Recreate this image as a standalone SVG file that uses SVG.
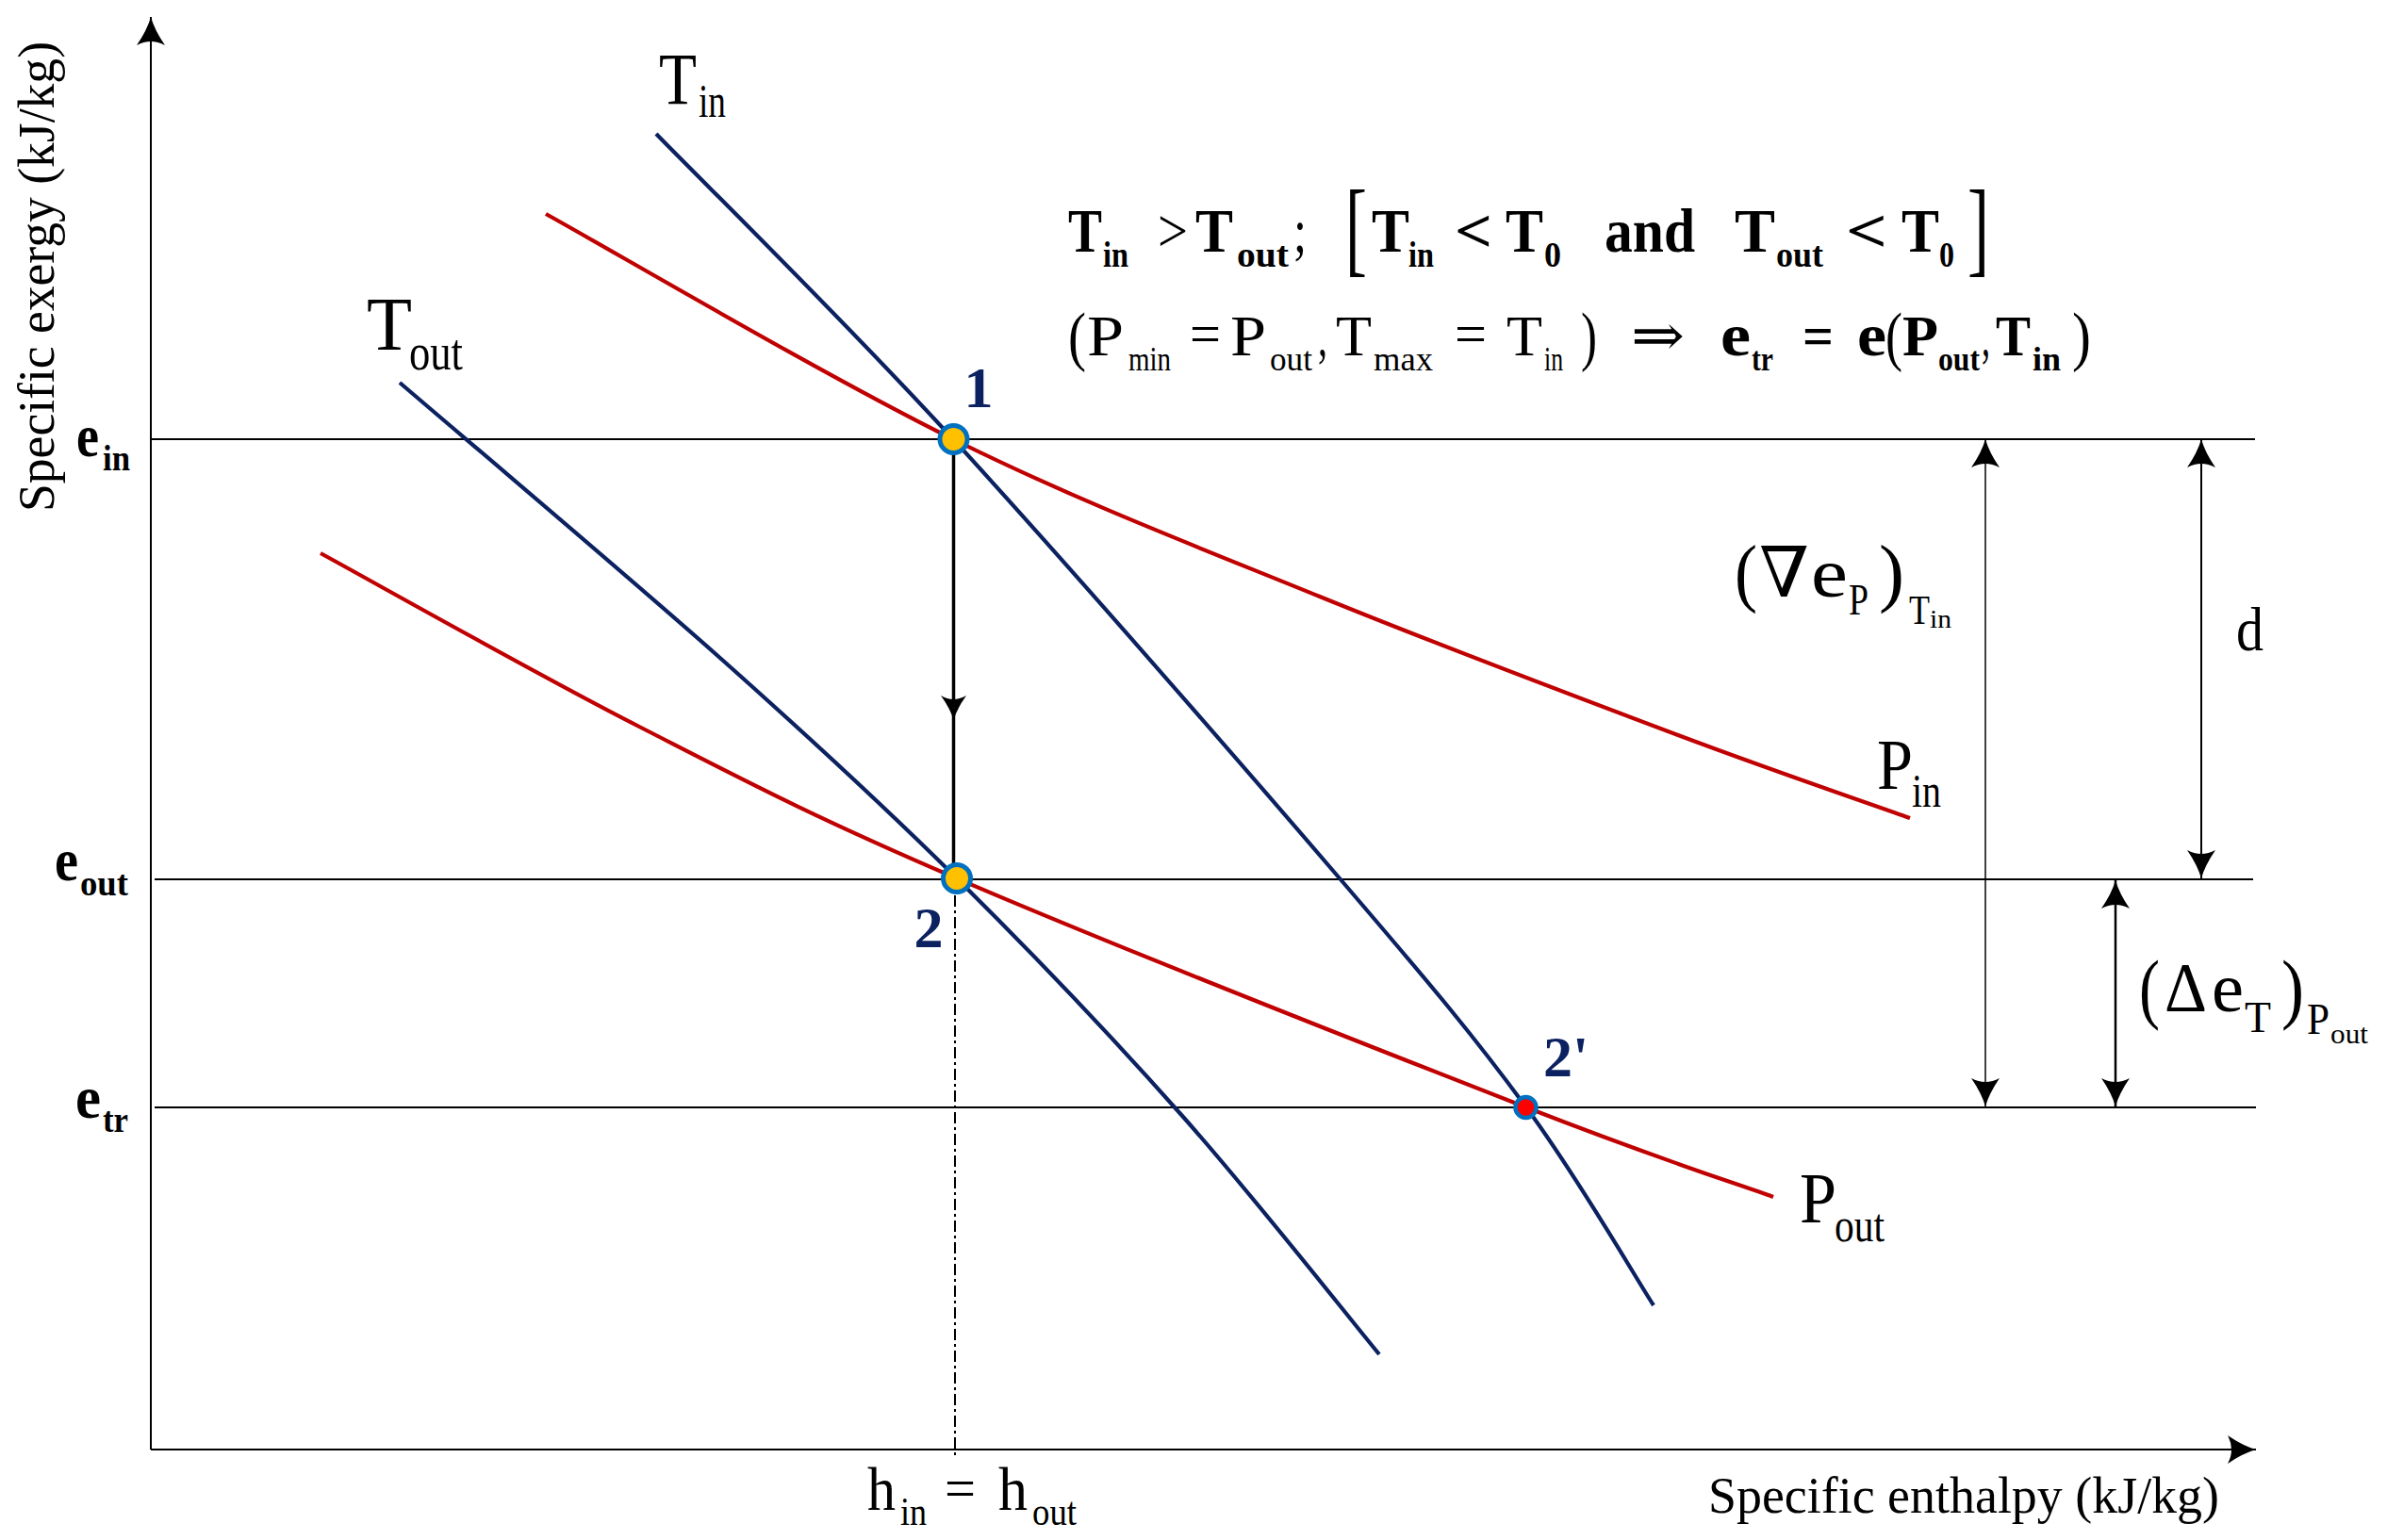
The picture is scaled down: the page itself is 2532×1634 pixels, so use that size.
<svg xmlns="http://www.w3.org/2000/svg" width="2532" height="1634" viewBox="0 0 2532 1634">
<style>
.t{font-family:"Liberation Serif","Times New Roman","DejaVu Serif",serif;fill:#000}
.b{font-weight:bold}
.nv{font-family:"Liberation Serif","Times New Roman",serif;font-weight:bold;fill:#0b2160;font-size:62px}
.grid{stroke:#000;stroke-width:2;fill:none}
.blue{stroke:#0b2160;stroke-width:4.2;fill:none}
.red{stroke:#c00000;stroke-width:4.2;fill:none}
.dim{stroke:#000;fill:none}
.pt{stroke:#0070c0;stroke-width:5}
</style>
<defs>
<marker id="ah" markerUnits="userSpaceOnUse" markerWidth="34" markerHeight="34" viewBox="-32 -17 34 34" refX="0" refY="0" orient="auto-start-reverse">
<path d="M0,0 Q-14,-4 -30,-15 Q-22,0 -30,15 Q-14,4 0,0Z" fill="#000"/>
</marker>
</defs>
<rect width="2532" height="1634" fill="#fff"/>

<g id="axes">
<line class="grid" x1="160" y1="1538" x2="160" y2="18" marker-end="url(#ah)"/>
<line class="grid" x1="160" y1="1538" x2="2393" y2="1538" marker-end="url(#ah)"/>
<text class="t" transform="translate(57,543) rotate(-90)" font-size="55" textLength="499" lengthAdjust="spacingAndGlyphs">Specific exergy (kJ/kg)</text>
<text class="t" x="1812" y="1605" font-size="55" textLength="542" lengthAdjust="spacingAndGlyphs">Specific enthalpy (kJ/kg)</text>
</g>

<g id="levels">
<line class="grid" x1="160" y1="466" x2="2392" y2="466"/>
<line class="grid" x1="164" y1="933" x2="2390" y2="933"/>
<line class="grid" x1="164" y1="1175" x2="2393" y2="1175"/>
<text class="t b" x="81" y="484" font-size="64" textLength="24" lengthAdjust="spacingAndGlyphs">e</text>
<text class="t b" x="109" y="499" font-size="38" textLength="29" lengthAdjust="spacingAndGlyphs">in</text>
<text class="t b" x="58" y="934" font-size="64" textLength="25" lengthAdjust="spacingAndGlyphs">e</text>
<text class="t b" x="85" y="950" font-size="38" textLength="51" lengthAdjust="spacingAndGlyphs">out</text>
<text class="t b" x="80" y="1186" font-size="64" textLength="27" lengthAdjust="spacingAndGlyphs">e</text>
<text class="t b" x="109" y="1201" font-size="38" textLength="27" lengthAdjust="spacingAndGlyphs">tr</text>
</g>

<g id="connectors">
<line x1="1013" y1="950" x2="1013" y2="1545" stroke="#000" stroke-width="2" stroke-dasharray="12 4 3 4"/>
<line x1="1011.5" y1="466" x2="1011.5" y2="932" stroke="#000" stroke-width="3.5"/>
<path d="M1011.5,764 Q1008,752 998,738 Q1011.5,746 1025,738 Q1015,752 1011.5,764Z" fill="#000"/>
<line class="dim" stroke-width="1.5" x1="2106" y1="466" x2="2106" y2="1174" marker-start="url(#ah)" marker-end="url(#ah)"/>
<line class="dim" stroke-width="2" x1="2335" y1="466" x2="2335" y2="932" marker-start="url(#ah)" marker-end="url(#ah)"/>
<line class="dim" stroke-width="2.5" x1="2244" y1="934" x2="2244" y2="1174" marker-start="url(#ah)" marker-end="url(#ah)"/>
</g>

<g id="curves">
<path id="Tin-curve" class="blue" d="M696,142 C748.5,196 890.2,334.3 1011,466 C1131.8,597.7 1319.7,813.8 1421,932 C1522.3,1050.2 1563.5,1099.5 1619,1175 C1674.5,1250.5 1731.5,1350 1754,1385"/>
<path id="Tout-curve" class="blue" d="M424,406 C481,455 667.5,612.3 766,700 C864.5,787.7 933.5,851.2 1015,932 C1096.5,1012.8 1180.3,1100.8 1255,1185 C1329.7,1269.2 1428.3,1395 1463,1437"/>
<path id="Pin-curve" class="red" d="M579,227 C651,266.8 874.2,398.3 1011,466 C1147.8,533.7 1271.8,580.7 1400,633 C1528.2,685.3 1675.7,740.8 1780,780 C1884.3,819.2 1985,853.3 2026,868"/>
<path id="Pout-curve" class="red" d="M340,587 C396.7,617.8 567.5,714.5 680,772 C792.5,829.5 858.5,864.8 1015,932 C1171.5,999.2 1474.7,1118.7 1619,1175 C1763.3,1231.3 1837.3,1254.2 1881,1270"/>
</g>

<g id="curve-labels">
<text class="t" x="699" y="110" font-size="78" textLength="40" lengthAdjust="spacingAndGlyphs">T</text>
<text class="t" x="741" y="124" font-size="50" textLength="29" lengthAdjust="spacingAndGlyphs">in</text>
<text class="t" x="389" y="371" font-size="80" textLength="48" lengthAdjust="spacingAndGlyphs">T</text>
<text class="t" x="434" y="392" font-size="54" textLength="57" lengthAdjust="spacingAndGlyphs">out</text>
<text class="t" x="1991" y="837" font-size="76" textLength="38" lengthAdjust="spacingAndGlyphs">P</text>
<text class="t" x="2028" y="856" font-size="50" textLength="31" lengthAdjust="spacingAndGlyphs">in</text>
<text class="t" x="1909" y="1297" font-size="76" textLength="39" lengthAdjust="spacingAndGlyphs">P</text>
<text class="t" x="1946" y="1317" font-size="50" textLength="53" lengthAdjust="spacingAndGlyphs">out</text>
</g>

<g id="point-1">
<circle class="pt" cx="1011.5" cy="466" r="14.5" fill="#ffc000"/>
<text class="nv" x="1038" y="432" text-anchor="middle">1</text>
</g>
<g id="point-2">
<circle class="pt" cx="1015" cy="932" r="14.5" fill="#ffc000"/>
<text class="nv" x="985" y="1005" text-anchor="middle">2</text>
</g>
<g id="point-2p">
<circle cx="1618.5" cy="1175" r="11" fill="#ff0000" stroke="#0070c0" stroke-width="4.5"/>
<text class="nv" x="1637" y="1142">2'</text>
</g>

<g id="dim-labels">
<text class="t" x="1840" y="634" font-size="80" textLength="24" lengthAdjust="spacingAndGlyphs">(</text>
<text class="t" x="1866" y="633" font-size="74" textLength="53" lengthAdjust="spacingAndGlyphs">∇</text>
<text class="t" x="1921" y="633" font-size="74" textLength="39" lengthAdjust="spacingAndGlyphs">e</text>
<text class="t" x="1961" y="652" font-size="46" textLength="21" lengthAdjust="spacingAndGlyphs">P</text>
<text class="t" x="1993" y="634" font-size="80" textLength="27" lengthAdjust="spacingAndGlyphs">)</text>
<text class="t" x="2025" y="662" font-size="44" textLength="22" lengthAdjust="spacingAndGlyphs">T</text>
<text class="t" x="2047" y="666" font-size="28" textLength="23" lengthAdjust="spacingAndGlyphs">in</text>
<text class="t" x="2372" y="690" font-size="66" textLength="29" lengthAdjust="spacingAndGlyphs">d</text>
<text class="t" x="2269" y="1076" font-size="82" textLength="22" lengthAdjust="spacingAndGlyphs">(</text>
<text class="t" x="2296" y="1073" font-size="74" textLength="45" lengthAdjust="spacingAndGlyphs">Δ</text>
<text class="t" x="2346" y="1073" font-size="74" textLength="34" lengthAdjust="spacingAndGlyphs">e</text>
<text class="t" x="2381" y="1095" font-size="46" textLength="28" lengthAdjust="spacingAndGlyphs">T</text>
<text class="t" x="2420" y="1076" font-size="82" textLength="24" lengthAdjust="spacingAndGlyphs">)</text>
<text class="t" x="2447" y="1097" font-size="46" textLength="24" lengthAdjust="spacingAndGlyphs">P</text>
<text class="t" x="2472" y="1107" font-size="30" textLength="40" lengthAdjust="spacingAndGlyphs">out</text>
</g>

<g id="h-label">
<text class="t" x="920" y="1602" font-size="66" textLength="30" lengthAdjust="spacingAndGlyphs">h</text>
<text class="t" x="955" y="1618" font-size="42" textLength="28" lengthAdjust="spacingAndGlyphs">in</text>
<text class="t" x="1002" y="1600" font-size="62" textLength="33" lengthAdjust="spacingAndGlyphs">=</text>
<text class="t" x="1059" y="1602" font-size="66" textLength="31" lengthAdjust="spacingAndGlyphs">h</text>
<text class="t" x="1095" y="1618" font-size="42" textLength="47" lengthAdjust="spacingAndGlyphs">out</text>
</g>

<g id="equation-1">
<text class="t b" x="1133" y="267" font-size="66" textLength="36" lengthAdjust="spacingAndGlyphs">T</text>
<text class="t b" x="1170" y="283" font-size="38" textLength="27" lengthAdjust="spacingAndGlyphs">in</text>
<text class="t" x="1228" y="267" font-size="66" textLength="32" lengthAdjust="spacingAndGlyphs">&gt;</text>
<text class="t b" x="1268" y="267" font-size="66" textLength="40" lengthAdjust="spacingAndGlyphs">T</text>
<text class="t b" x="1312" y="283" font-size="38" textLength="55" lengthAdjust="spacingAndGlyphs">out</text>
<text class="t" x="1372" y="267" font-size="66" textLength="14" lengthAdjust="spacingAndGlyphs">;</text>
<text class="t" x="1427" y="279" font-size="112" textLength="23" lengthAdjust="spacingAndGlyphs">[</text>
<text class="t b" x="1455" y="267" font-size="66" textLength="40" lengthAdjust="spacingAndGlyphs">T</text>
<text class="t b" x="1494" y="283" font-size="38" textLength="27" lengthAdjust="spacingAndGlyphs">in</text>
<text class="t b" x="1543" y="267" font-size="66" textLength="40" lengthAdjust="spacingAndGlyphs">&lt;</text>
<text class="t b" x="1597" y="267" font-size="66" textLength="40" lengthAdjust="spacingAndGlyphs">T</text>
<text class="t b" x="1638" y="283" font-size="38" textLength="18" lengthAdjust="spacingAndGlyphs">0</text>
<text class="t b" x="1702" y="267" font-size="66" textLength="96" lengthAdjust="spacingAndGlyphs">and</text>
<text class="t b" x="1840" y="267" font-size="66" textLength="43" lengthAdjust="spacingAndGlyphs">T</text>
<text class="t b" x="1884" y="283" font-size="38" textLength="50" lengthAdjust="spacingAndGlyphs">out</text>
<text class="t b" x="1958" y="267" font-size="66" textLength="44" lengthAdjust="spacingAndGlyphs">&lt;</text>
<text class="t b" x="2017" y="267" font-size="66" textLength="40" lengthAdjust="spacingAndGlyphs">T</text>
<text class="t b" x="2057" y="283" font-size="38" textLength="16" lengthAdjust="spacingAndGlyphs">0</text>
<text class="t" x="2087" y="279" font-size="112" textLength="23" lengthAdjust="spacingAndGlyphs">]</text>
</g>

<g id="equation-2">
<text class="t" x="1133" y="380" font-size="70" textLength="19" lengthAdjust="spacingAndGlyphs">(</text>
<text class="t" x="1153" y="377" font-size="62" textLength="39" lengthAdjust="spacingAndGlyphs">P</text>
<text class="t" x="1197" y="393" font-size="36" textLength="45" lengthAdjust="spacingAndGlyphs">min</text>
<text class="t" x="1262" y="375" font-size="62" textLength="33" lengthAdjust="spacingAndGlyphs">=</text>
<text class="t" x="1305" y="377" font-size="62" textLength="38" lengthAdjust="spacingAndGlyphs">P</text>
<text class="t" x="1347" y="393" font-size="36" textLength="45" lengthAdjust="spacingAndGlyphs">out</text>
<text class="t" x="1398" y="377" font-size="62" textLength="10" lengthAdjust="spacingAndGlyphs">,</text>
<text class="t" x="1417" y="377" font-size="62" textLength="38" lengthAdjust="spacingAndGlyphs">T</text>
<text class="t" x="1457" y="393" font-size="36" textLength="63" lengthAdjust="spacingAndGlyphs">max</text>
<text class="t" x="1543" y="375" font-size="62" textLength="34" lengthAdjust="spacingAndGlyphs">=</text>
<text class="t" x="1598" y="377" font-size="62" textLength="38" lengthAdjust="spacingAndGlyphs">T</text>
<text class="t" x="1638" y="393" font-size="36" textLength="20" lengthAdjust="spacingAndGlyphs">in</text>
<text class="t" x="1677" y="380" font-size="70" textLength="17" lengthAdjust="spacingAndGlyphs">)</text>
<text class="t" x="1730" y="377" font-size="62" textLength="57" lengthAdjust="spacingAndGlyphs">⇒</text>
<text class="t b" x="1825" y="377" font-size="64" textLength="32" lengthAdjust="spacingAndGlyphs">e</text>
<text class="t b" x="1858" y="393" font-size="36" textLength="23" lengthAdjust="spacingAndGlyphs">tr</text>
<text class="t b" x="1912" y="377" font-size="62" textLength="33" lengthAdjust="spacingAndGlyphs">=</text>
<text class="t b" x="1970" y="377" font-size="64" textLength="31" lengthAdjust="spacingAndGlyphs">e</text>
<text class="t" x="2000" y="380" font-size="70" textLength="18" lengthAdjust="spacingAndGlyphs">(</text>
<text class="t b" x="2018" y="377" font-size="62" textLength="38" lengthAdjust="spacingAndGlyphs">P</text>
<text class="t b" x="2056" y="393" font-size="36" textLength="44" lengthAdjust="spacingAndGlyphs">out</text>
<text class="t" x="2102" y="377" font-size="62" textLength="9" lengthAdjust="spacingAndGlyphs">,</text>
<text class="t b" x="2117" y="377" font-size="62" textLength="37" lengthAdjust="spacingAndGlyphs">T</text>
<text class="t b" x="2156" y="393" font-size="36" textLength="30" lengthAdjust="spacingAndGlyphs">in</text>
<text class="t" x="2198" y="380" font-size="70" textLength="20" lengthAdjust="spacingAndGlyphs">)</text>
</g>
</svg>
